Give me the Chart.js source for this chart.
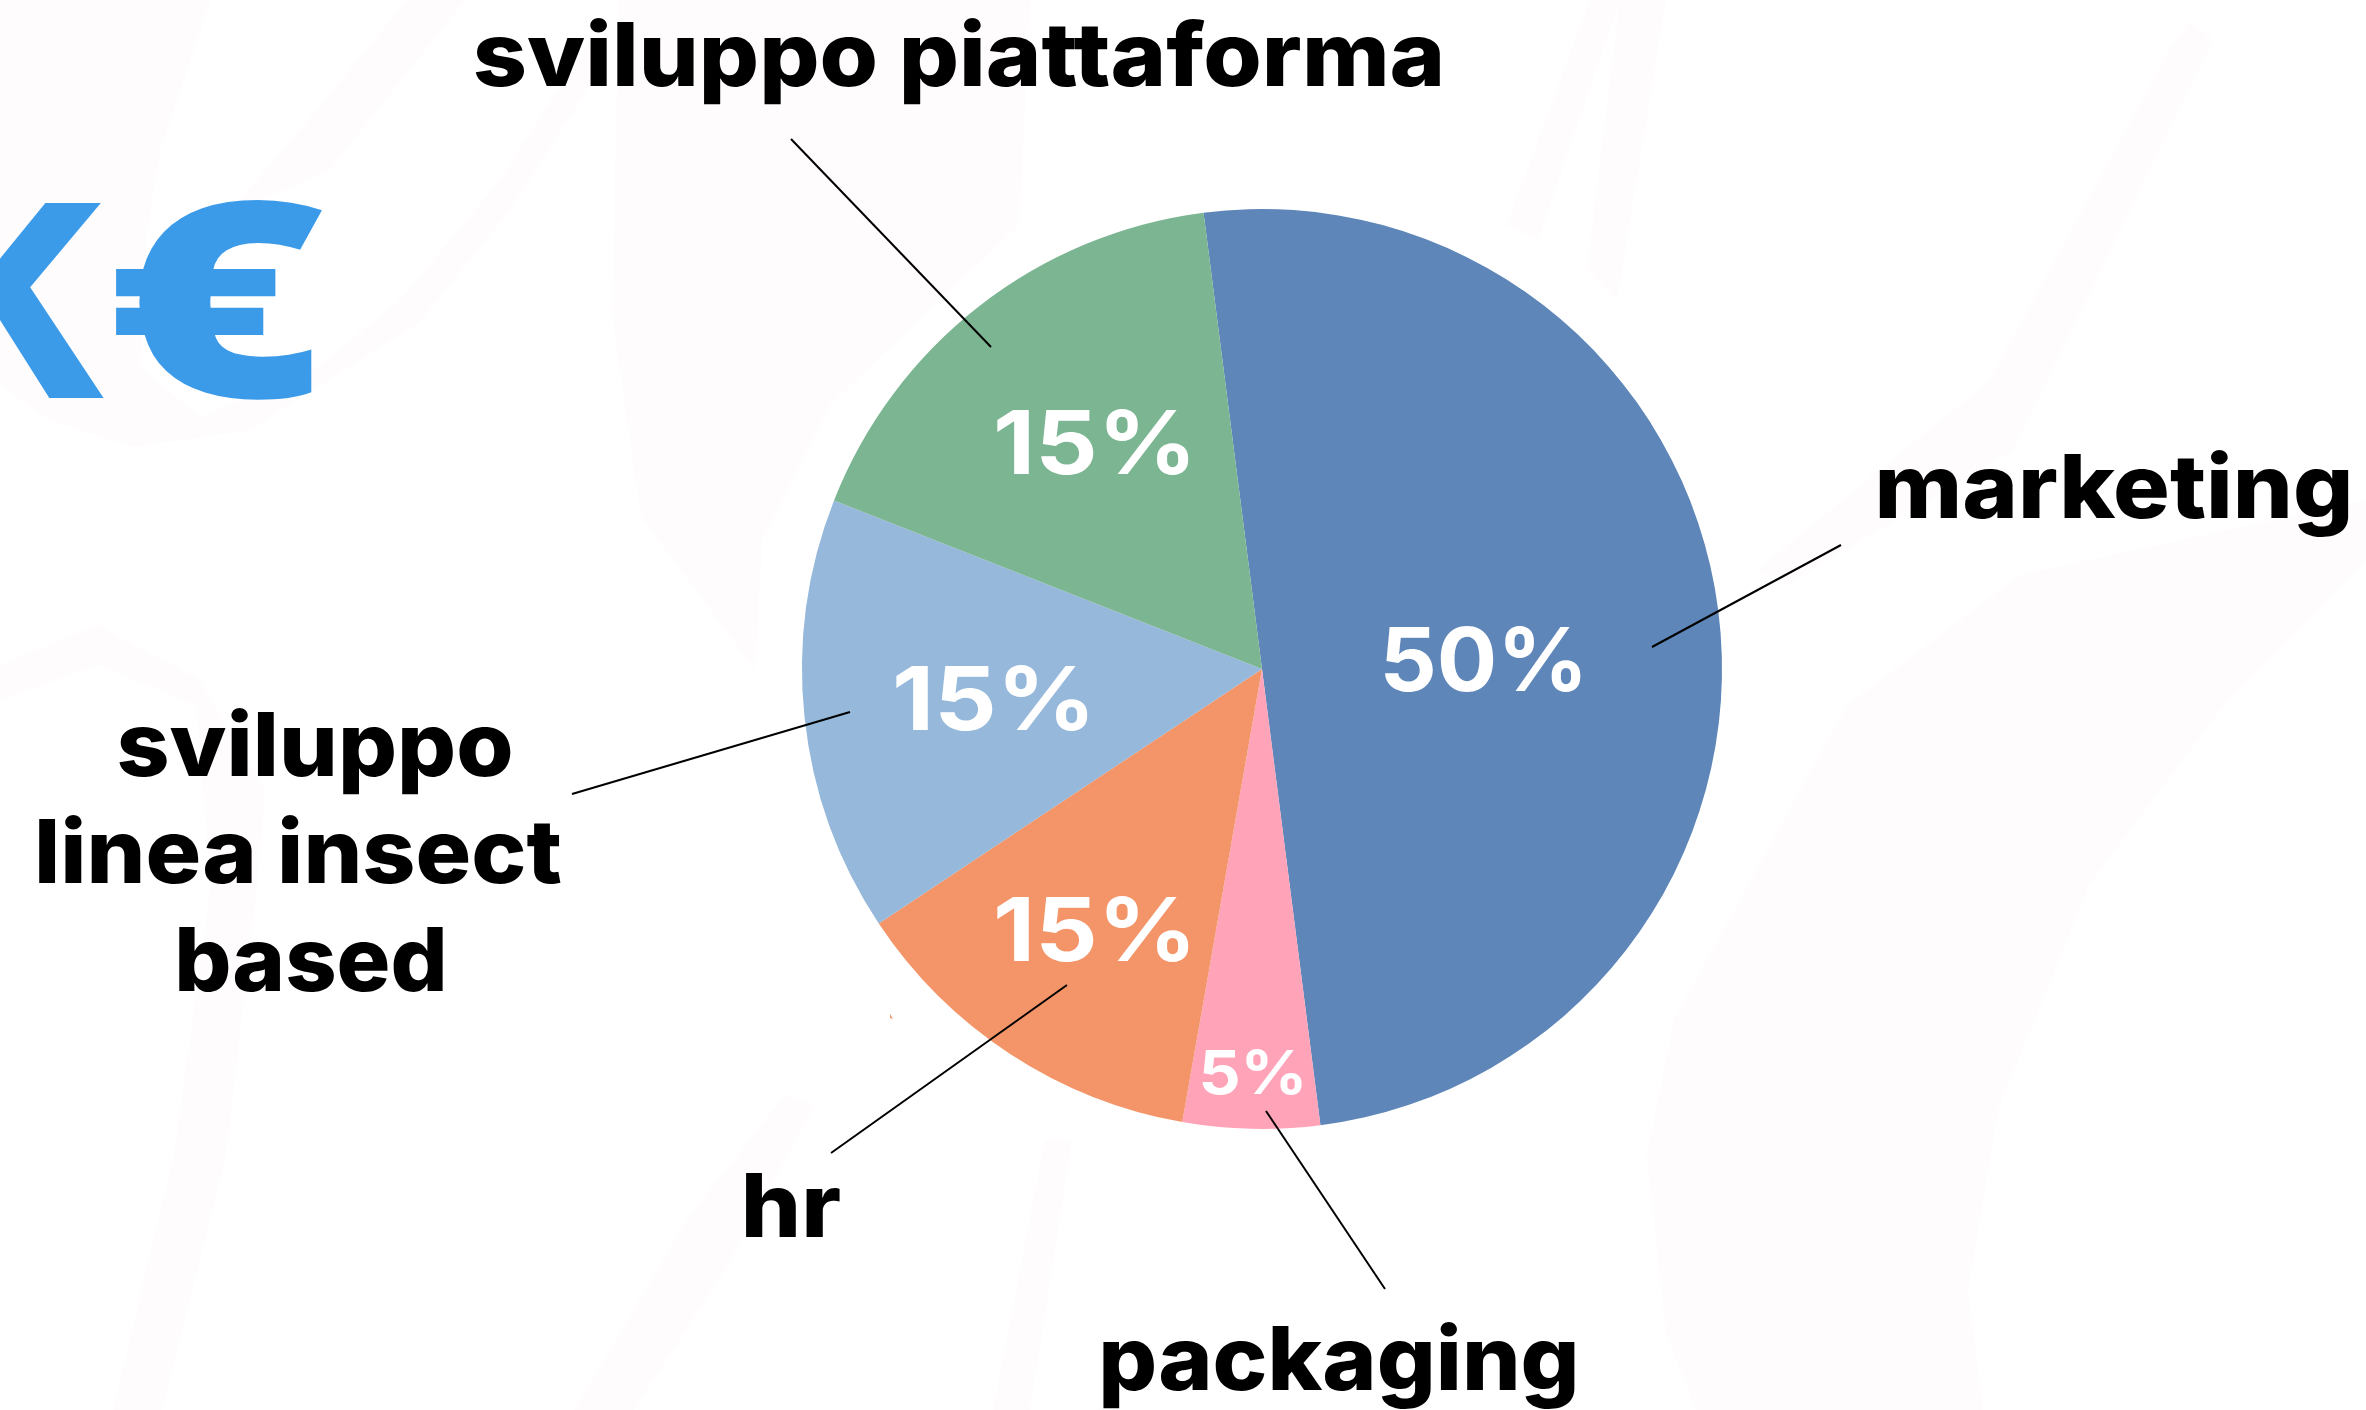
<!DOCTYPE html>
<html><head><meta charset="utf-8">
<style>html,body{margin:0;padding:0;background:#fff;overflow:hidden}canvas{display:block}</style>
<script src="https://cdn.jsdelivr.net/npm/chart.js@4"></script>
</head><body>
<div style="position:absolute;left:0;top:0;width:2366px;height:1410px"><canvas id="c"></canvas></div>
<script>
const categories = ["marketing", "packaging", "hr", "sviluppo linea insect based", "sviluppo piattaforma"];
const sliceShares = [50, 4.8, 12.9, 15.3, 17.0];
const printedPercents = ["50%", "5%", "15%", "15%", "15%"];
const sliceColors = ["#5E86B8", "#FFA3B9", "#F39568", "#96B8DA", "#7BB591"];

const FONT = '"Inter", "Noto Sans", sans-serif';
const percentLayout = [
  {x:1484, y:691, size:88, stretch:1.02},
  {x:1253, y:1094, size:60, stretch:1.1},
  {x:1095, y:961, size:88, stretch:1.11},
  {x:994, y:730, size:88, stretch:1.11},
  {x:1095, y:474, size:88, stretch:1.11}
];
const nameLayout = [
  {text:"marketing", x:2114, y:518, size:88, stretch:1.075},
  {text:"packaging", x:1339, y:1390, size:88, stretch:1.05},
  {text:"hr", x:791, y:1237, size:88, stretch:1.08},
  {text:"sviluppo", x:315, y:776, size:88, stretch:1.053},
  {text:"linea insect", x:298, y:883, size:88, stretch:1.055},
  {text:"based", x:311, y:991, size:88, stretch:1.02},
  {text:"sviluppo piattaforma", x:959, y:86, size:88, stretch:1.075}
];
const leaders = [
  [1841,545,1652,647],[1385,1289,1266,1111],[831,1153,1067,985],[572,794,850,712],[791,139,991,347]
];
// faint watermark shapes behind the pie (decoration only)
const watermarks = [
  [[0,0],[211,0],[160,150],[147,233],[140,367],[200,417],[317,367],[400,300],[500,180],[590,40],[600,70],[510,210],[420,322],[250,430],[133,447],[50,420],[0,385]],
  [[407,0],[465,0],[330,170],[226,215],[300,130]],
  [[619,0],[612,315],[641,517],[755,670],[762,540],[830,405],[1019,225],[1030,0]],
  [[0,665],[98,625],[200,680],[265,790],[257,885],[226,1155],[162,1410],[113,1410],[174,1155],[211,885],[196,705],[98,665],[0,700]],
  [[785,1095],[815,1105],[725,1270],[634,1410],[574,1410],[690,1215]],
  [[1045,1140],[1072,1140],[1030,1410],[993,1410]],
  [[1590,0],[1620,0],[1538,240],[1507,225]],
  [[1620,0],[1666,0],[1617,300],[1587,270]],
  [[2172,45],[2190,22],[2213,40],[2013,450],[1787,585],[1757,570],[1990,380]],
  [[1847,705],[2020,575],[2366,500],[2366,562],[2224,705],[2089,885],[1998,1110],[1968,1290],[1983,1410],[1696,1410],[1666,1334],[1647,1155],[1674,1020]]
];

const backdrop = {
  id:'backdrop',
  beforeDraw(ch){
    const c = ch.ctx; c.save();
    c.fillStyle='#FEFCFD';
    watermarks.forEach(p=>{
      c.beginPath();c.moveTo(p[0][0],p[0][1]);
      p.slice(1).forEach(q=>c.lineTo(q[0],q[1]));
      c.closePath();c.fill();
    });
    c.restore();
  }
};
function stretched(c,t,x,y,s){c.save();c.translate(x,y);c.scale(s,1);c.fillText(t,0,0);c.restore();}
const decor = {
  id:'decor',
  afterDraw(ch){
    const c = ch.ctx; c.save();
    // tiny orange speck seen left of the pie
    c.fillStyle='#F39568';c.beginPath();c.moveTo(890,1014);c.lineTo(893,1019);c.lineTo(890,1018);c.closePath();c.fill();
    c.strokeStyle='#000'; c.lineWidth=2;
    leaders.forEach(l=>{c.beginPath();c.moveTo(l[0],l[1]);c.lineTo(l[2],l[3]);c.stroke();});
    c.textBaseline='alphabetic'; c.textAlign='center';
    c.fillStyle='#000';
    nameLayout.forEach(n=>{c.font=`800 ${n.size}px ${FONT}`;stretched(c,n.text,n.x,n.y,n.stretch);});
    c.fillStyle='#fff';
    percentLayout.forEach((p,i)=>{c.font=`700 ${p.size}px ${FONT}`;stretched(c,printedPercents[i],p.x,p.y,p.stretch);});
    c.fillStyle='#3C9BE9';
    c.textAlign='right'; c.font=`800 268px ${FONT}`; c.fillText('K',110,398);
    c.textAlign='center'; c.font=`800 272px "Open Sans"`; stretched(c,'€',216,397,1.38);
    c.restore();
  }
};

new Chart(document.getElementById('c'),{
  type:'pie',
  data:{labels:categories,datasets:[{data:sliceShares,backgroundColor:sliceColors,borderWidth:0}]},
  options:{
    responsive:true,maintainAspectRatio:false,animation:false,
    rotation:-7.3,
    layout:{padding:{left:802,right:644,top:209,bottom:281}},
    plugins:{legend:{display:false},tooltip:{enabled:false}}
  },
  plugins:[backdrop,decor]
});
</script>
</body></html>
